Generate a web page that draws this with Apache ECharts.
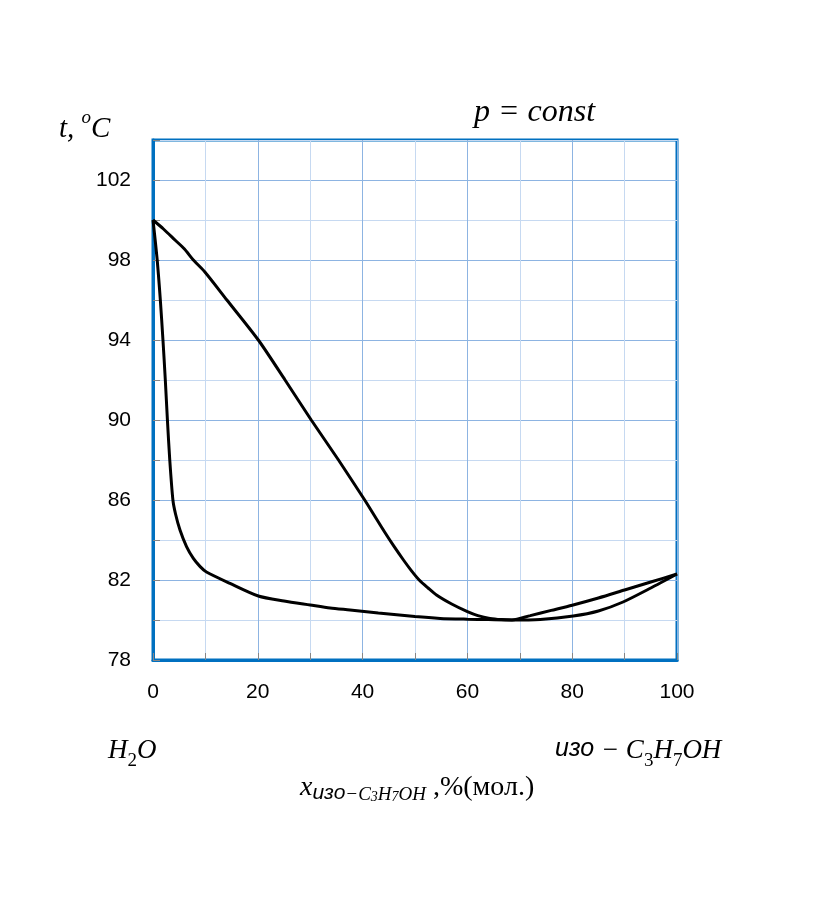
<!DOCTYPE html>
<html>
<head>
<meta charset="utf-8">
<script src="https://cdn.jsdelivr.net/npm/echarts@6/dist/echarts.min.js"></script>
<style>
html,body{margin:0;padding:0;background:#fff;}
#chart{width:834px;height:910px;}
</style>
</head>
<body>
<div id="chart"></div>
<script>
// Vapour (dew-point) curve: x, %(mol) of iso-C3H7OH; t, °C
const vaporX = [0, 2, 4.2, 6, 7.7, 9.9, 14.1, 20.1, 25.2, 30.2, 35.4, 40.4, 42.3, 44.2, 46, 47.8, 49.3, 50.8, 52.5, 54.1, 57, 60, 62, 64.3, 66.5, 68.5, 72, 76, 80, 85, 90, 95, 100];
const vaporT = [100, 99.55, 99.0, 98.55, 98.0, 97.4, 96.0, 94.0, 92.0, 90.0, 88.0, 86.0, 85.2, 84.4, 83.68, 83.0, 82.47, 82.0, 81.6, 81.25, 80.8, 80.42, 80.22, 80.08, 80.02, 80.0, 80.22, 80.48, 80.74, 81.1, 81.5, 81.9, 82.3];
// Liquid (bubble-point) curve
const liquidX = [0, 0.8, 1.4, 1.9, 2.35, 2.75, 3.2, 3.8, 4.3, 5.15, 6.4, 7.7, 9.0, 10.2, 14.7, 20.1, 25, 30, 33.8, 37.6, 43, 50, 54.8, 60, 64, 68.5, 73.9, 80.2, 85, 89.7, 95, 100];
const liquidT = [100, 98.0, 96.0, 94.0, 92.0, 90.0, 88.0, 86.0, 85.3, 84.5, 83.67, 83.08, 82.67, 82.4, 81.83, 81.2, 80.95, 80.75, 80.6, 80.5, 80.35, 80.17, 80.08, 80.04, 80.02, 80.0, 80.03, 80.2, 80.45, 80.9, 81.6, 82.3];
// Axis ticks
const xTickLabels = [0, 20, 40, 60, 80, 100];
const yTickLabels = [78, 82, 86, 90, 94, 98, 102];

const chart = echarts.init(document.getElementById('chart'), null, {renderer: 'canvas'});
const pairs = (xs, ys) => xs.map((x, i) => [x, ys[i]]);
const serif = '"Liberation Serif", "DejaVu Serif", serif';
const sans = '"Liberation Sans", Arial, sans-serif';
const MED = '#8DB4E2', LIGHT = '#C6D9F1', BLUE = '#0070C0';

const option = {
  backgroundColor: '#ffffff',
  animation: false,
  grid: {left: 153, top: 140, width: 524, height: 520, show: true, borderColor: BLUE, borderWidth: 3, backgroundColor: 'transparent'},
  xAxis: {
    type: 'value', min: 0, max: 100, interval: 10,
    axisLine: {show: true, lineStyle: {color: BLUE, width: 3}},
    axisTick: {show: true, inside: true, length: 7, lineStyle: {color: '#868686', width: 1}},
    axisLabel: {margin: 22, color: '#000', fontFamily: sans, fontSize: 21,
      formatter: v => xTickLabels.includes(v) ? String(v) : ''},
    splitLine: {show: true, lineStyle: {color: [MED, LIGHT], width: 1}}
  },
  yAxis: {
    type: 'value', min: 78, max: 104, interval: 2,
    axisLine: {show: true, lineStyle: {color: BLUE, width: 3}},
    axisTick: {show: true, inside: true, length: 7, lineStyle: {color: '#868686', width: 1}},
    axisLabel: {margin: 22, color: '#000', fontFamily: sans, fontSize: 21,
      formatter: v => yTickLabels.includes(v) ? String(v) : ''},
    splitLine: {show: true, lineStyle: {color: [MED, LIGHT], width: 1}}
  },
  series: [
    {type: 'line', data: pairs(vaporX, vaporT), showSymbol: false, smooth: 0.25,
     lineStyle: {color: '#000', width: 3}, z: 5},
    {type: 'line', data: pairs(liquidX, liquidT), showSymbol: false, smooth: 0.25,
     lineStyle: {color: '#000', width: 3}, z: 5}
  ],
  graphic: [
    {type: 'text', left: 59, top: 108, style: {
      text: '{i|t, }{sup|o}{i|C}',
      rich: {
        i: {fontFamily: serif, fontStyle: 'italic', fontSize: 29, lineHeight: 36, verticalAlign: 'bottom', fill: '#000'},
        sup: {fontFamily: serif, fontStyle: 'italic', fontSize: 19, lineHeight: 36, verticalAlign: 'top', fill: '#000'}
      }}},
    {type: 'text', left: 474, top: 97, style: {
      text: '{i|p = const}',
      rich: {i: {fontFamily: serif, fontStyle: 'italic', fontSize: 32, lineHeight: 36, fill: '#000'}}}},
    {type: 'text', left: 108, top: 737, style: {
      text: '{i|H}{sub|2}{i|O}',
      rich: {
        i: {fontFamily: serif, fontStyle: 'italic', fontSize: 27, lineHeight: 34, verticalAlign: 'top', fill: '#000'},
        sub: {fontFamily: serif, fontSize: 19, lineHeight: 34, verticalAlign: 'bottom', fill: '#000'}
      }}},
    {type: 'text', left: 555, top: 737, style: {
      text: '{s|изо}{i| − C}{sub|3}{i|H}{sub|7}{i|OH}',
      rich: {
        s: {fontFamily: sans, fontStyle: 'italic', fontSize: 25, lineHeight: 34, verticalAlign: 'top', fill: '#000'},
        i: {fontFamily: serif, fontStyle: 'italic', fontSize: 27, lineHeight: 34, verticalAlign: 'top', fill: '#000'},
        sub: {fontFamily: serif, fontSize: 19, lineHeight: 34, verticalAlign: 'bottom', fill: '#000'}
      }}},
    {type: 'text', left: 300, top: 774, style: {
      text: '{i|x}{ss|изо}{si|−C}{s3|3}{si|H}{s3|7}{si|OH}{r| ,%(мол.)}',
      rich: {
        i: {fontFamily: serif, fontStyle: 'italic', fontSize: 28, lineHeight: 30, verticalAlign: 'top', fill: '#000'},
        ss: {fontFamily: sans, fontStyle: 'italic', fontSize: 21, lineHeight: 18, verticalAlign: 'bottom', fill: '#000'},
        si: {fontFamily: serif, fontStyle: 'italic', fontSize: 19, lineHeight: 16, verticalAlign: 'bottom', fill: '#000'},
        s3: {fontFamily: serif, fontStyle: 'italic', fontSize: 14, lineHeight: 8, verticalAlign: 'bottom', fill: '#000'},
        r: {fontFamily: serif, fontSize: 28, lineHeight: 30, verticalAlign: 'top', fill: '#000'}
      }}}
  ]
};
chart.setOption(option);
</script>
</body>
</html>
